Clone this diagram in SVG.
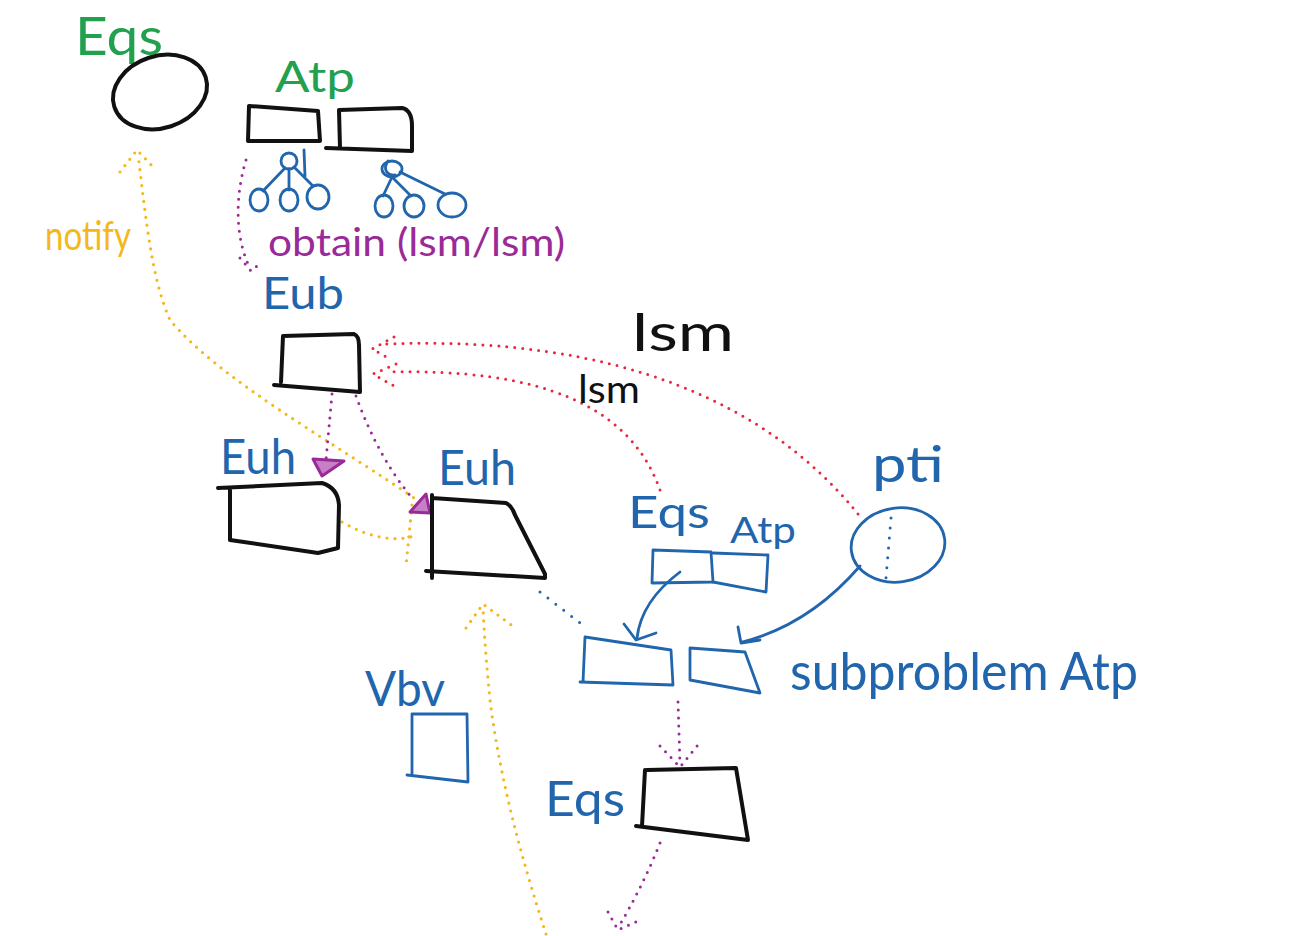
<svg xmlns="http://www.w3.org/2000/svg" width="1304" height="936" viewBox="0 0 1304 936">
<style>
  .bg{fill:#ffffff}
  .k{fill:none;stroke:#111111;stroke-width:4;stroke-linecap:round;stroke-linejoin:round}
  .b{fill:none;stroke:#2166ad;stroke-width:2.8;stroke-linecap:round;stroke-linejoin:round}
  .dr{fill:none;stroke:#e6283c;stroke-width:3;stroke-linecap:round;stroke-dasharray:0 8}
  .dy{fill:none;stroke:#f4b81a;stroke-width:3.2;stroke-linecap:round;stroke-dasharray:0 8}
  .dp{fill:none;stroke:#9a2a98;stroke-width:3;stroke-linecap:round;stroke-dasharray:0 8}
  .db{fill:none;stroke:#2166ad;stroke-width:3;stroke-linecap:round;stroke-dasharray:0 10}
  .tri{fill:#c77fc6;stroke:#9a2a98;stroke-width:3;stroke-linejoin:round}
  text{font-family:"Lato","Open Sans","Liberation Sans",sans-serif;font-weight:400}
  .tg{fill:#21a04e}
  .tb{fill:#2166ad}
  .tp{fill:#9a2a98}
  .ty{fill:#f4b81a}
  .tk{fill:#111111}
</style>
<rect class="bg" x="0" y="0" width="1304" height="936"/>

<g id="connectors">
  <!-- notify (yellow) -->
  <path class="dy" d="M420,502 C330,440 220,380 170,320 C152,280 146,220 138,154"/>
  <path class="dy" d="M120,172 L137,150 L156,170"/>
  <path class="dy" d="M342,522 C370,538 395,542 414,536"/>
  <path class="dy" d="M412,505 L406,566"/>
  <!-- big yellow from bottom -->
  <path class="dy" d="M546,934 C522,860 500,780 490,700 C486,660 484,630 483,607"/>
  <path class="dy" d="M466,628 L483,604 L514,627"/>
  <!-- obtain -->
  <path class="dp" d="M246,160 C234,200 236,240 250,268"/>
  <path class="dp" d="M240,258 L251,271 L262,262"/>
  <!-- Eub to Euh boxes -->
  <path class="dp" d="M332,394 L326,460"/>
  <polygon class="tri" points="313,459 344,461 322,476"/>
  <path class="dp" d="M356,396 C372,440 392,475 414,500"/>
  <polygon class="tri" points="410,512 426,494 430,513"/>
  <!-- red lsm curves -->
  <path class="dr" d="M858,514 C770,405 620,335 386,344"/>
  <path class="dr" d="M394,337 L372,349 L392,360"/>
  <path class="dr" d="M660,490 C630,405 540,368 386,372"/>
  <path class="dr" d="M396,364 L373,374 L394,386"/>
  <!-- blue dotted Euh to subproblem -->
  <path class="db" d="M540,592 L584,626"/>
  <!-- blue solid arrows -->
  <path class="b" d="M680,572 C656,590 640,612 637,638"/>
  <path class="b" d="M624,624 L636,640 L656,633"/>
  <path class="b" d="M860,566 C822,610 782,632 742,642"/>
  <path class="b" d="M738,627 L741,643 L760,640"/>
  <!-- subproblem to Eqs -->
  <path class="dp" d="M678,702 L680,764"/>
  <path class="dp" d="M660,746 L680,767 L702,740"/>
  <!-- Eqs down -->
  <path class="dp" d="M660,843 C646,878 632,904 618,928"/>
  <path class="dp" d="M608,912 L618,930 L636,922"/>
</g>

<g id="node-eqs-top">
  <text class="tg" x="75" y="55" font-size="52" textLength="88" lengthAdjust="spacingAndGlyphs">Eqs</text>
  <ellipse class="k" cx="160" cy="92" rx="48" ry="36" transform="rotate(-18 160 92)"/>
</g>

<g id="node-atp-top">
  <text class="tg" x="275" y="92" font-size="42" textLength="80" lengthAdjust="spacingAndGlyphs">Atp</text>
  <path class="k" d="M249,106 L318,111 L320,141 L248,141 Z"/>
  <path class="k" d="M339,110 L402,108 Q412,110 412,126 L412,151 L326,148 M339,110 L340,148"/>
  <!-- left tree -->
  <circle class="b" cx="289" cy="161" r="8"/>
  <path class="b" d="M285,168 L263,191 M289,169 L289,190 M294,167 L313,186 M304,150 L305,176"/>
  <ellipse class="b" cx="259" cy="200" rx="9" ry="11"/>
  <ellipse class="b" cx="289" cy="200" rx="9" ry="11"/>
  <ellipse class="b" cx="318" cy="197" rx="11" ry="12"/>
  <!-- right tree -->
  <ellipse class="b" cx="392" cy="169" rx="10" ry="8"/>
  <path class="b" d="M392,177 L383,196 M392,177 L411,196 M400,172 L445,194 M388,161 C382,170 388,176 395,175"/>
  <ellipse class="b" cx="384" cy="206" rx="9" ry="11"/>
  <ellipse class="b" cx="414" cy="206" rx="10" ry="11"/>
  <ellipse class="b" cx="452" cy="205" rx="14" ry="12"/>
</g>

<g id="label-notify">
  <text class="ty" x="45" y="250" font-size="40" textLength="86" lengthAdjust="spacingAndGlyphs">notify</text>
</g>

<g id="label-obtain">
  <text class="tp" x="268" y="256" font-size="38" textLength="297" lengthAdjust="spacingAndGlyphs">obtain (lsm/lsm)</text>
</g>

<g id="node-eub">
  <text class="tb" x="262" y="309" font-size="44" textLength="82" lengthAdjust="spacingAndGlyphs">Eub</text>
  <path class="k" d="M283,336 L354,334 Q359,336 359,345 L360,392 L274,385 M283,336 L281,382"/>
</g>

<g id="label-lsm">
  <text class="tk" x="632" y="351" font-size="52" textLength="102" lengthAdjust="spacingAndGlyphs">lsm</text>
  <text class="tk" x="578" y="403" font-size="38" textLength="62" lengthAdjust="spacingAndGlyphs">lsm</text>
</g>

<g id="node-euh-left">
  <text class="tb" x="220" y="474" font-size="48" textLength="76" lengthAdjust="spacingAndGlyphs">Euh</text>
  <path class="k" d="M218,488 L322,483 Q338,488 339,505 L338,548 L318,553 L230,540 M230,490 L230,540"/>
</g>

<g id="node-euh-right">
  <text class="tb" x="438" y="485" font-size="48" textLength="78" lengthAdjust="spacingAndGlyphs">Euh</text>
  <path class="k" d="M432,495 L432,578 M432,498 L506,503 Q512,506 515,515 L545,574 L545,578 L426,571"/>
</g>

<g id="node-eqs-atp-mid">
  <text class="tb" x="628" y="528" font-size="44" textLength="82" lengthAdjust="spacingAndGlyphs">Eqs</text>
  <text class="tb" x="730" y="543" font-size="36" textLength="66" lengthAdjust="spacingAndGlyphs">Atp</text>
  <path class="b" d="M653,550 L711,552 L713,582 L652,583 Z"/>
  <path class="b" d="M713,553 L768,555 L766,592 L713,582"/>
</g>

<g id="node-pti">
  <text class="tb" x="872" y="482" font-size="50" textLength="72" lengthAdjust="spacingAndGlyphs">pti</text>
  <ellipse class="b" cx="898" cy="545" rx="47" ry="37" transform="rotate(-8 898 545)"/>
  <path class="db" d="M891,518 L886,578" stroke-dasharray="0 9"/>
</g>

<g id="node-subproblem">
  <path class="b" d="M585,637 L671,650 L673,685 L580,682 M585,637 L583,682"/>
  <path class="b" d="M690,648 L745,652 L760,693 L690,680 M690,648 L690,680"/>
  <text class="tb" x="790" y="690" font-size="52" textLength="348" lengthAdjust="spacingAndGlyphs">subproblem Atp</text>
</g>

<g id="node-vbv">
  <text class="tb" x="365" y="706" font-size="48" textLength="80" lengthAdjust="spacingAndGlyphs">Vbv</text>
  <path class="b" d="M412,714 L467,714 L468,782 L407,775 M412,714 L412,775"/>
</g>

<g id="node-eqs-bottom">
  <text class="tb" x="545" y="816" font-size="48" textLength="80" lengthAdjust="spacingAndGlyphs">Eqs</text>
  <path class="k" d="M645,770 L642,826 M647,770 L736,768 L748,840 L636,826"/>
</g>
</svg>
